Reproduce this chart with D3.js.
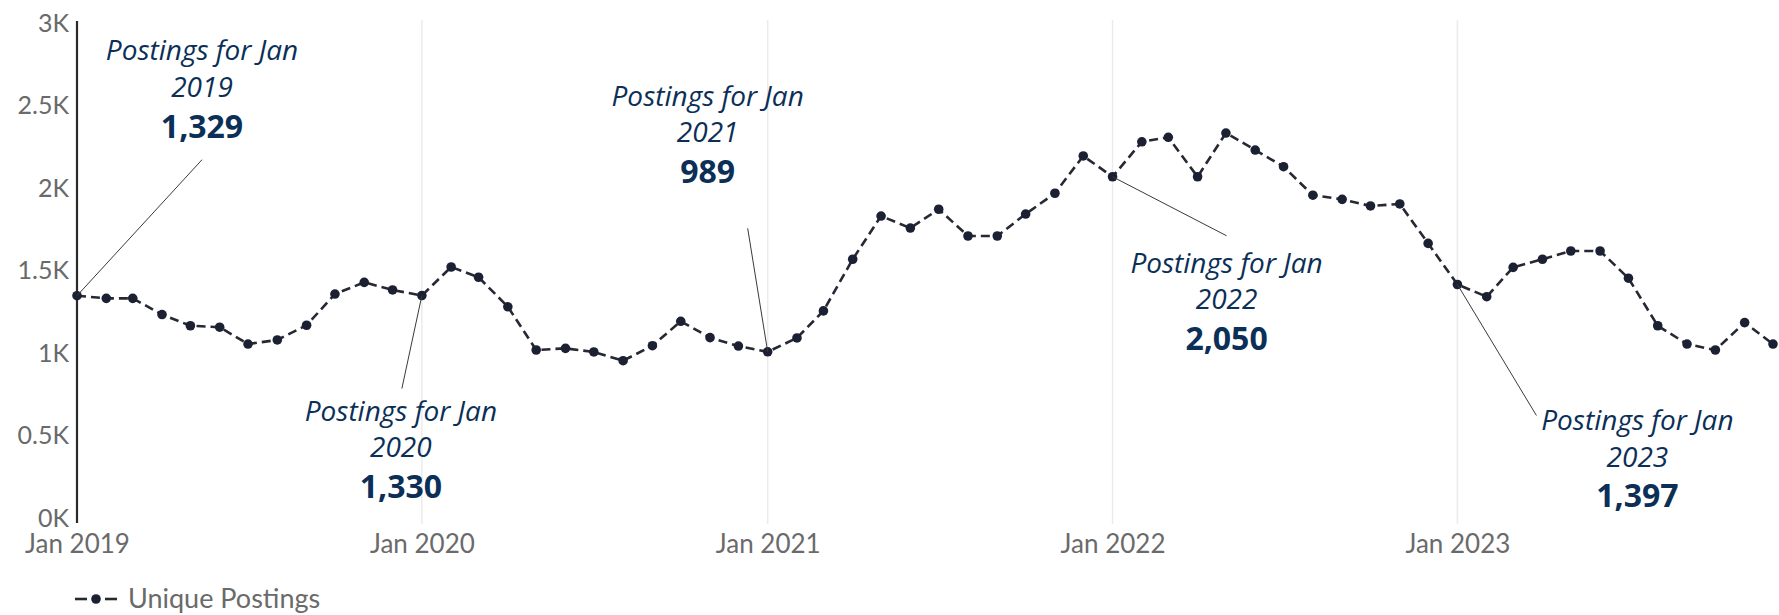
<!DOCTYPE html>
<html>
<head>
<meta charset="utf-8">
<script src="https://cdn.jsdelivr.net/npm/d3@7"></script>
<style>
  html, body { margin: 0; padding: 0; background: #fff; }
  svg { display: block; }
</style>
</head>
<body>
<svg id="chart" width="1779" height="615"></svg>
<script>
// ---- data ----
const startMonth = "2019-01";
const postings2019 = [1329, 1313, 1313, 1215, 1147, 1138, 1036, 1061, 1150, 1339, 1410, 1364];
const postings2020 = [1330, 1503, 1441, 1262, 1000, 1010, 988, 935, 1026, 1174, 1075, 1024];
const postings2021 = [989, 1073, 1237, 1550, 1812, 1739, 1853, 1691, 1691, 1824, 1950, 2176];
const postings2022 = [2050, 2262, 2289, 2050, 2315, 2212, 2111, 1938, 1913, 1873, 1885, 1646];
const postings2023 = [1397, 1323, 1501, 1550, 1600, 1600, 1435, 1147, 1036, 1000, 1166, 1036];
const yTicks = [0, 500, 1000, 1500, 2000, 2500, 3000];
const yTickLabels = ["0K", "0.5K", "1K", "1.5K", "2K", "2.5K", "3K"];
const xTickLabels = ["Jan 2019", "Jan 2020", "Jan 2021", "Jan 2022", "Jan 2023"];
const annotatedMonths = ["2019-01", "2020-01", "2021-01", "2022-01", "2023-01"];
const seriesName = "Unique Postings";

// ---- layout (not data) ----
const annotationLayout = [
  { tx: 125, ty: -235.3, lx: 125, ly: -136 },
  { tx: -21, ty: 125, lx: -20, ly: 93 },
  { tx: -60, ty: -246, lx: -20, ly: -123.5 },
  { tx: 114, ty: 96, lx: 114, ly: 59 },
  { tx: 180, ty: 145.5, lx: 79, ly: 131 }
];

const parse = d3.timeParse("%Y-%m");
const values = [].concat(postings2019, postings2020, postings2021, postings2022, postings2023);
const t0 = parse(startMonth);
const data = values.map((v, i) => ({ date: d3.timeMonth.offset(t0, i), value: v }));

const svg = d3.select("#chart");
const x = d3.scaleTime()
  .domain([data[0].date, data[data.length - 1].date])
  .range([77, 1773]);
const y = d3.scaleLinear().domain([0, 3000]).range([515, 20]);

const axisFont = "Lato, 'Open Sans', sans-serif";
const grey = "#6a6a6a";
const navy = "#0b2f57";

// vertical gridlines at each January (except the first, which is the axis)
const janDates = xTickLabels.map(s => d3.timeParse("%b %Y")(s));
svg.append("g").selectAll("line")
  .data(janDates.slice(1))
  .join("line")
  .attr("x1", d => x(d)).attr("x2", d => x(d))
  .attr("y1", 20).attr("y2", 524)
  .attr("stroke", "#ebebeb").attr("stroke-width", 1.5);

// y axis
const yAxis = d3.axisLeft(y)
  .tickValues(yTicks)
  .tickFormat((d, i) => yTickLabels[i])
  .tickSize(0)
  .tickPadding(8);
const gy = svg.append("g").attr("transform", "translate(77,0)").call(yAxis);
gy.select(".domain").remove();
gy.selectAll("text")
  .attr("font-family", axisFont).attr("font-size", 25)
  .attr("fill", grey).attr("dy", "0.44em");
svg.append("line")
  .attr("x1", 77).attr("x2", 77).attr("y1", 21).attr("y2", 523)
  .attr("stroke", "#2a2a2a").attr("stroke-width", 2.2);

// x axis
const xAxis = d3.axisBottom(x)
  .tickValues(janDates)
  .tickFormat((d, i) => xTickLabels[i])
  .tickSize(0)
  .tickPadding(0);
const gx = svg.append("g").attr("transform", "translate(0,515)").call(xAxis);
gx.select(".domain").remove();
gx.selectAll("text")
  .attr("font-family", axisFont).attr("font-size", 26)
  .attr("fill", grey).attr("dy", null).attr("y", 38);

// line
const line = d3.line().x(d => x(d.date)).y(d => y(d.value));
svg.append("path")
  .datum(data)
  .attr("d", line)
  .attr("fill", "none")
  .attr("stroke", "#262833")
  .attr("stroke-width", 2.6)
  .attr("stroke-dasharray", "9,5");

svg.append("g").selectAll("circle")
  .data(data)
  .join("circle")
  .attr("cx", d => x(d.date)).attr("cy", d => y(d.value))
  .attr("r", 4.8)
  .attr("fill", "#1c2033");

// annotations
const fmt = d3.format(",");
const annFont = "'Open Sans', 'Noto Sans', sans-serif";
annotatedMonths.forEach((m, i) => {
  const d = data.find(p => +p.date === +parse(m));
  const px = x(d.date), py = y(d.value);
  const L = annotationLayout[i];
  svg.append("line")
    .attr("x1", px).attr("y1", py)
    .attr("x2", px + L.lx).attr("y2", py + L.ly)
    .attr("stroke", "#3a3a3a").attr("stroke-width", 1);
  const g = svg.append("g").attr("transform", `translate(${px + L.tx},${py + L.ty})`);
  const monthName = d3.timeFormat("%b")(d.date);
  const yearName = d3.timeFormat("%Y")(d.date);
  g.append("text").text(`Postings for ${monthName}`)
    .attr("text-anchor", "middle").attr("y", 0)
    .attr("font-family", annFont).attr("font-style", "italic")
    .attr("font-size", 28).attr("fill", navy);
  g.append("text").text(yearName)
    .attr("text-anchor", "middle").attr("y", 36.6)
    .attr("font-family", annFont).attr("font-style", "italic")
    .attr("font-size", 28).attr("fill", navy);
  g.append("text").text(fmt(d.value))
    .attr("text-anchor", "middle").attr("y", 77.5)
    .attr("font-family", annFont).attr("font-weight", "bold")
    .attr("font-size", 32).attr("fill", navy);
});

// legend
const lg = svg.append("g").attr("transform", "translate(0,599)");
lg.append("line").attr("x1", 75).attr("x2", 87).attr("y1", 0).attr("y2", 0)
  .attr("stroke", "#262833").attr("stroke-width", 2.6);
lg.append("line").attr("x1", 105).attr("x2", 117).attr("y1", 0).attr("y2", 0)
  .attr("stroke", "#262833").attr("stroke-width", 2.6);
lg.append("circle").attr("cx", 96).attr("cy", 0).attr("r", 4.8).attr("fill", "#1c2033");
lg.append("text").text(seriesName)
  .attr("x", 128).attr("y", 9)
  .attr("font-family", axisFont).attr("font-size", 27).attr("fill", grey);
</script>
</body>
</html>
